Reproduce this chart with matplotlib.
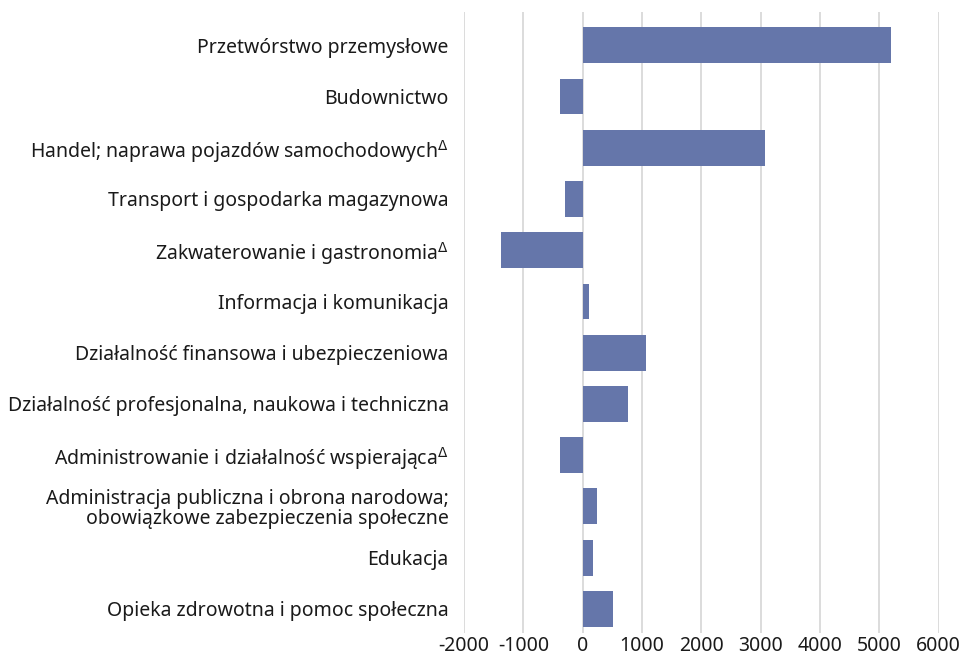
import numpy as np
import matplotlib
matplotlib.use('Agg')
import matplotlib.pyplot as plt

plt.rcParams['font.family'] = ['Noto Sans', 'DejaVu Sans']
plt.rcParams['mathtext.fontset'] = 'dejavusans'

categories = [
    'Przetwórstwo przemysłowe',
    'Budownictwo',
    'Handel; naprawa pojazdów samochodowych$^{\\Delta}$',
    'Transport i gospodarka magazynowa',
    'Zakwaterowanie i gastronomia$^{\\Delta}$',
    'Informacja i komunikacja',
    'Działalność finansowa i ubezpieczeniowa',
    'Działalność profesjonalna, naukowa i techniczna',
    'Administrowanie i działalność wspierająca$^{\\Delta}$',
    'Administracja publiczna i obrona narodowa;\nobowiązkowe zabezpieczenia społeczne',
    'Edukacja',
    'Opieka zdrowotna i pomoc społeczna',
]
values = [5190, -380, 3080, -300, -1380, 105, 1060, 760, -380, 250, 175, 505]
xticks = [-2000, -1000, 0, 1000, 2000, 3000, 4000, 5000, 6000]

fig = plt.figure(figsize=(9.62, 6.64), dpi=100)
ax = fig.add_axes([0.4823, 0.0467, 0.4935, 0.9353])

y = np.arange(len(categories))
ax.barh(y, values, height=0.7, color='#6576aa', zorder=3)

ax.set_xlim(-2000, 6000)
ax.set_ylim(11.47, -0.65)
ax.set_yticks(y)
ax.set_yticklabels(categories, fontsize=14, color='#1a1a1a', linespacing=1.0)
ax.set_xticks(xticks)
ax.set_xticklabels([str(t) for t in xticks], fontsize=14, color='#1a1a1a')
ax.tick_params(axis='y', length=0, pad=11)
ax.tick_params(axis='x', length=0, pad=2)
ax.grid(axis='x', color='#d9d9d9', linewidth=1.3, zorder=0)
for s in ax.spines.values():
    s.set_visible(False)

fig.savefig('out.png', dpi=100)
